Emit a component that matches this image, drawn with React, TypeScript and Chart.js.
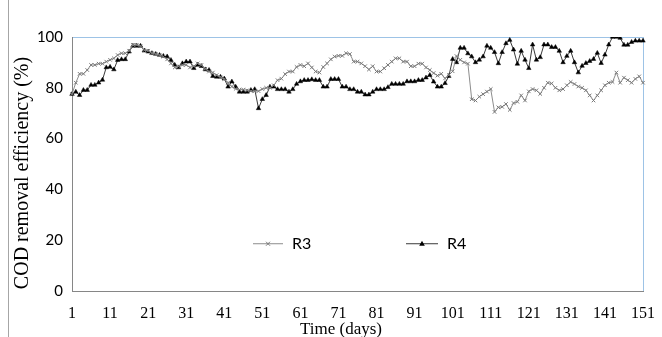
import React, { useEffect, useRef } from "react";
import { Chart, registerables } from "chart.js";

Chart.register(...registerables);

const days: string[] = Array.from({ length: 151 }, (_, i) => String(i + 1));

const r3: number[] = [
  77.5, 82, 85.5, 85.5, 87, 89, 89, 89.5, 89.5, 90.3,
  91, 91.6, 92.9, 93.6, 93.6, 94.6, 96.9, 96.9, 96.5, 94.8,
  94.6, 93.6, 93.3, 92.9, 92.3, 91.2, 89.6, 88, 88.5, 89,
  89, 88, 88.5, 89.6, 89, 87.5, 86.4, 86, 85, 84.3,
  83.5, 82, 80.5, 79.6, 79.3, 79.3, 79, 78.7, 78.7, 78.7,
  79.5, 80, 80, 81, 83, 83.6, 85.4, 86.4, 86.4, 88.2,
  89, 88.5, 89.6, 88, 86.4, 86, 88.2, 89.6, 91.2, 92.3,
  92.6, 92.6, 93.6, 93.3, 90.3, 90.3, 89.6, 88.5, 87.2, 88.5,
  86.4, 86.4, 87.7, 89, 90.3, 91.6, 91.6, 90.3, 90.3, 88.5,
  88.5, 89.5, 89.5, 88, 87, 85.8, 84.8, 85.5, 83.7, 85,
  86.5, 92.5, 91, 90, 89.5, 75.5, 75, 76.5, 77.5, 78.5,
  79.5, 70.5, 72.3, 72.5, 73.6, 71.3, 74, 74.5, 77, 75,
  78.6, 79.5, 79, 77.6, 80, 82, 81.7, 80, 79, 79.5,
  81, 82.3, 81.5, 80.5, 80, 79, 77, 75, 77, 79,
  81, 82, 82.3, 86, 82, 84, 83, 82, 83.5, 84.5,
  82,
];

const r4: number[] = [
  77.5, 78.4, 77.1, 79.1, 79.1, 81.1, 81.1, 82, 83.1, 88,
  88.2, 87.2, 90.9, 91.2, 91.2, 94.2, 96.5, 96.5, 96.5, 94.6,
  94.2, 93.6, 93.3, 92.9, 92.5, 92.3, 90.9, 89, 88, 89.6,
  90.3, 90.3, 87.7, 89, 88.5, 87.2, 87, 84.6, 84.3, 84.3,
  83.6, 80.4, 82.4, 80.4, 78.4, 78.4, 78.4, 79.1, 79.4, 71.9,
  75.5, 77.1, 80.4, 80.4, 79.4, 79.4, 79.4, 78.4, 79.4, 81.5,
  82.5, 83, 83, 83.3, 83, 83, 80.4, 80.4, 83.4, 83.4,
  83.4, 80.4, 80.4, 79.4, 79.4, 78.4, 78.4, 77.3, 77.3, 78.4,
  79.4, 79.4, 79.4, 80.2, 81.5, 81.5, 81.5, 81.5, 82.5, 82.5,
  82.5, 83, 83, 84, 85, 82.4, 80.4, 80.4, 81.8, 84.6,
  91.3, 90, 95.7, 95.7, 93.5, 92.3, 90, 91, 92.3, 96.5,
  95.7, 94, 89.6, 94, 97.5, 98.8, 95, 89.4, 94.5, 91,
  87.7, 97, 91, 92, 97, 97, 96, 96, 94.5, 90,
  92.5, 94.5, 90, 86, 88.6, 89.7, 90.5, 91.3, 93.7, 89.7,
  93, 97, 100, 100, 99.6, 96.9, 96.9, 98, 98.5, 98.5,
  98.5,
];

const yTitle = "COD removal efficiency (%)";
const xTitle = "Time (days)";

const BLUE = "#9dc3e6";
const AXIS = "#868686";

const decor = {
  id: "decor",
  afterDraw(chart: any) {
    const { ctx } = chart;
    ctx.save();
    // outer frame line on the left
    ctx.strokeStyle = "#a6a6a6";
    ctx.lineWidth = 1;
    ctx.beginPath();
    ctx.moveTo(8.5, 0);
    ctx.lineTo(8.5, 337);
    ctx.stroke();

    // y title
    ctx.fillStyle = "#000";
    ctx.font = '20px "Liberation Serif", "Times New Roman", serif';
    ctx.textAlign = "center";
    ctx.textBaseline = "alphabetic";
    ctx.save();
    ctx.translate(28, 173);
    ctx.rotate(-Math.PI / 2);
    ctx.fillText(yTitle, 0, 0);
    ctx.restore();

    // x title
    ctx.font = '17px "Liberation Serif", "Times New Roman", serif';
    ctx.fillText(xTitle, 341, 334);

    // legend inside plot
    const ly = chart.scales.y.getPixelForValue(18.8);
    const items = [
      { ds: chart.data.datasets[0], x0: 253, x1: 283 },
      { ds: chart.data.datasets[1], x0: 406, x1: 438 },
    ];
    for (const it of items) {
      ctx.strokeStyle = it.ds.borderColor;
      ctx.lineWidth = 1;
      ctx.beginPath();
      ctx.moveTo(it.x0, ly + 0.5);
      ctx.lineTo(it.x1, ly + 0.5);
      ctx.stroke();
      const mx = (it.x0 + it.x1) / 2;
      if (it.ds.pointStyle === "crossRot") {
        ctx.strokeStyle = it.ds.pointBorderColor;
        ctx.beginPath();
        ctx.moveTo(mx - 2, ly - 1.5);
        ctx.lineTo(mx + 2, ly + 2.5);
        ctx.moveTo(mx + 2, ly - 1.5);
        ctx.lineTo(mx - 2, ly + 2.5);
        ctx.stroke();
      } else {
        ctx.fillStyle = it.ds.pointBackgroundColor;
        ctx.beginPath();
        ctx.moveTo(mx, ly - 2.5);
        ctx.lineTo(mx + 2.8, ly + 2.5);
        ctx.lineTo(mx - 2.8, ly + 2.5);
        ctx.closePath();
        ctx.fill();
      }
      ctx.fillStyle = "#000";
      ctx.font = '16px Lato, "Liberation Sans", sans-serif';
      ctx.textAlign = "left";
      ctx.textBaseline = "middle";
      ctx.fillText(it.ds.label, it.x1 + 9, ly + 1);
    }
    ctx.restore();
  },
};

export default function App() {
  const ref = useRef<HTMLCanvasElement | null>(null);
  useEffect(() => {
    if (!ref.current) return;
    const chart = new Chart(ref.current, {
      type: "line",
      data: {
        labels: days,
        datasets: [
          {
            label: "R3",
            data: r3,
            borderColor: "#8c8c8c",
            borderWidth: 1,
            pointStyle: "crossRot",
            pointRadius: 2.5,
            pointBorderColor: "#7a7a7a",
            pointBackgroundColor: "#7a7a7a",
            pointBorderWidth: 1,
            tension: 0,
          },
          {
            label: "R4",
            data: r4,
            borderColor: "#3a3a3a",
            borderWidth: 1,
            pointStyle: "triangle",
            pointRadius: 2.6,
            pointBorderColor: "#000",
            pointBackgroundColor: "#000",
            pointBorderWidth: 0.5,
            tension: 0,
          },
        ],
      },
      options: {
        responsive: false,
        animation: false,
        layout: { padding: { left: 0, top: 37, right: 19, bottom: 0 } },
        plugins: { legend: { display: false }, tooltip: { enabled: false } },
        scales: {
          x: {
            type: "category",
            offset: false,
            grid: {
              drawTicks: false,
              color: (c: any) => (c.index === 150 ? BLUE : "rgba(0,0,0,0)"),
            },
            border: { color: AXIS, width: 1 },
            ticks: {
              autoSkip: false,
              maxRotation: 0,
              padding: 13,
              color: "#000",
              font: { family: '"Liberation Serif", "Times New Roman", serif', size: 16 },
              callback: (_v: any, i: number) => (i % 10 === 0 ? days[i] : ""),
            },
            afterFit: (s: any) => {
              s.height = 46;
              s.paddingLeft = 0;
              s.paddingRight = 0;
            },
          },
          y: {
            min: 0,
            max: 100,
            grid: {
              drawTicks: false,
              color: (c: any) => (c.tick && c.tick.value === 100 ? BLUE : "rgba(0,0,0,0)"),
            },
            border: { color: AXIS, width: 1 },
            ticks: {
              stepSize: 20,
              padding: 9,
              color: "#000",
              font: { family: 'Lato, "Liberation Sans", sans-serif', size: 15 },
            },
            afterFit: (s: any) => {
              s.width = 72;
            },
          },
        },
      },
      plugins: [decor],
    });
    return () => chart.destroy();
  }, []);
  return (
    <div style={{ position: "absolute", left: 0, top: 0, width: 662, height: 337, background: "#fff" }}>
      <canvas ref={ref} width={662} height={337} style={{ display: "block" }} />
    </div>
  );
}
